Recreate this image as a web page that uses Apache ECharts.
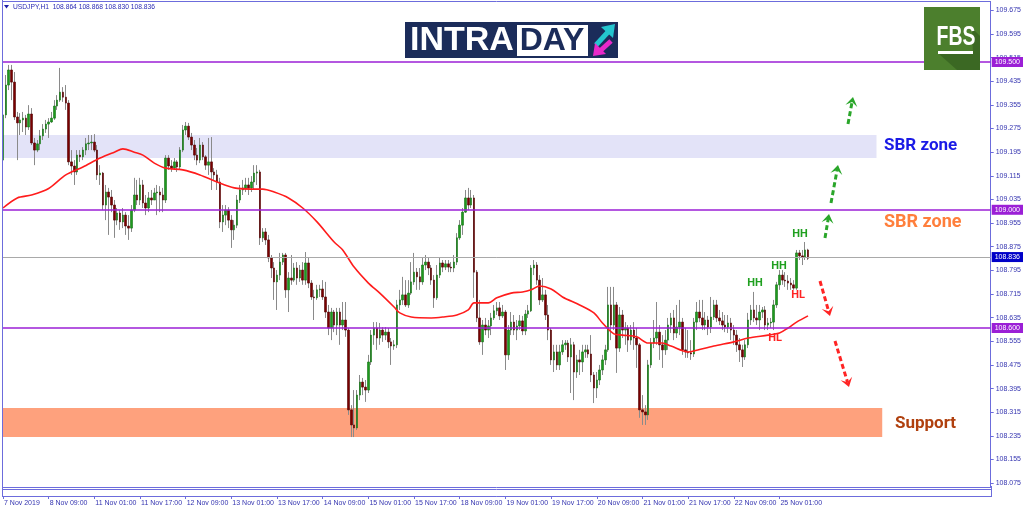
<!DOCTYPE html>
<html><head><meta charset="utf-8">
<script src="https://cdn.jsdelivr.net/npm/echarts@6/dist/echarts.min.js"></script>
<style>html,body{margin:0;padding:0;background:#fff}#c{width:1024px;height:511px}</style>
</head><body><div id="c"></div>
<script>
// ---------- DATA (USDJPY H1) ----------
const xTickLabels = ['7 Nov 2019','8 Nov 09:00','11 Nov 01:00','11 Nov 17:00','12 Nov 09:00','13 Nov 01:00','13 Nov 17:00','14 Nov 09:00','15 Nov 01:00','15 Nov 17:00','18 Nov 09:00','19 Nov 01:00','19 Nov 17:00','20 Nov 09:00','21 Nov 01:00','21 Nov 17:00','22 Nov 09:00','25 Nov 01:00'];
const yTickValues = [108.075,108.155,108.235,108.315,108.395,108.475,108.555,108.635,108.715,108.795,108.875,108.955,109.035,109.115,109.195,109.275,109.355,109.435,109.515,109.595,109.675];

const closes = [
109.321,109.422,109.473,109.432,109.314,109.294,109.304,109.310,109.280,109.324,
109.226,109.202,109.223,109.250,109.273,109.290,109.297,109.310,109.351,109.371,
109.398,109.381,109.361,109.162,109.148,109.128,109.185,109.179,109.202,109.223,
109.226,109.229,109.202,109.118,109.124,109.016,109.060,109.043,109.016,108.965,
108.989,108.959,108.982,108.945,108.938,108.999,109.050,109.033,109.084,109.023,
109.006,109.040,109.033,109.057,109.060,109.050,109.033,109.175,109.148,109.141,
109.162,109.145,109.202,109.270,109.283,109.246,109.219,109.185,109.168,109.219,
109.179,109.151,109.162,109.128,109.118,109.094,108.959,108.982,108.999,108.965,
108.932,108.948,109.033,109.067,109.074,109.084,109.074,109.094,109.124,109.128,
108.905,108.925,108.898,108.837,108.803,108.756,108.779,108.823,108.847,108.729,
108.769,108.762,108.803,108.769,108.796,108.762,108.820,108.752,108.705,108.702,
108.729,108.732,108.705,108.654,108.600,108.654,108.610,108.654,108.610,108.627,
108.593,108.323,108.272,108.262,108.373,108.417,108.400,108.390,108.485,108.576,
108.600,108.566,108.593,108.576,108.586,108.553,108.539,108.543,108.678,108.695,
108.712,108.678,108.718,108.756,108.789,108.773,108.756,108.813,108.823,108.803,
108.762,108.702,108.779,108.820,108.806,108.817,108.806,108.803,108.823,108.905,
108.948,108.992,109.040,109.016,109.040,108.789,108.634,108.553,108.610,108.593,
108.607,108.634,108.658,108.668,108.641,108.654,108.509,108.593,108.620,108.593,
108.607,108.624,108.590,108.647,108.658,108.803,108.813,108.762,108.695,108.712,
108.644,108.593,108.492,108.519,108.475,108.519,108.543,108.549,108.502,108.543,
108.451,108.492,108.485,108.519,108.526,108.512,108.441,108.397,108.424,108.458,
108.492,108.526,108.678,108.610,108.678,108.532,108.644,108.593,108.600,108.559,
108.593,108.566,108.543,108.323,108.316,108.306,108.475,108.549,108.566,108.586,
108.543,108.526,108.559,108.610,108.634,108.583,108.603,108.620,108.526,108.519,
108.516,108.512,108.620,108.654,108.634,108.610,108.627,108.603,108.637,108.678,
108.634,108.624,108.610,108.603,108.617,108.593,108.576,108.543,108.526,108.502,
108.543,108.627,108.661,108.634,108.627,108.654,108.661,108.610,108.617,108.620,
108.678,108.746,108.779,108.762,108.759,108.752,108.746,108.735,108.854,108.844,
108.840,108.864,108.836];

const opens = [
109.168,109.321,109.422,109.473,109.432,109.314,109.294,109.304,109.310,109.280,
109.324,109.226,109.202,109.223,109.250,109.273,109.290,109.297,109.310,109.351,
109.371,109.398,109.381,109.361,109.162,109.148,109.128,109.185,109.179,109.202,
109.223,109.226,109.229,109.202,109.118,109.124,109.016,109.060,109.043,109.016,
108.965,108.989,108.959,108.982,108.945,108.938,108.999,109.050,109.033,109.084,
109.023,109.006,109.040,109.033,109.057,109.060,109.050,109.033,109.175,109.148,
109.141,109.162,109.145,109.202,109.270,109.283,109.246,109.219,109.185,109.168,
109.219,109.179,109.151,109.162,109.128,109.118,109.094,108.959,108.982,108.999,
108.965,108.932,108.948,109.033,109.067,109.074,109.084,109.074,109.094,109.124,
109.128,108.905,108.925,108.898,108.837,108.803,108.756,108.779,108.823,108.847,
108.729,108.769,108.762,108.803,108.769,108.796,108.762,108.820,108.752,108.705,
108.702,108.729,108.732,108.705,108.654,108.600,108.654,108.610,108.654,108.610,
108.627,108.593,108.323,108.272,108.262,108.373,108.417,108.400,108.390,108.485,
108.576,108.600,108.566,108.593,108.576,108.586,108.553,108.539,108.543,108.678,
108.695,108.712,108.678,108.718,108.756,108.789,108.773,108.756,108.813,108.823,
108.803,108.762,108.702,108.779,108.820,108.806,108.817,108.806,108.803,108.823,
108.905,108.948,108.992,109.040,109.016,109.040,108.789,108.634,108.553,108.610,
108.593,108.607,108.634,108.658,108.668,108.641,108.654,108.509,108.593,108.620,
108.593,108.607,108.624,108.590,108.647,108.658,108.803,108.813,108.762,108.695,
108.712,108.644,108.593,108.492,108.519,108.475,108.519,108.543,108.549,108.502,
108.543,108.451,108.492,108.485,108.519,108.526,108.512,108.441,108.397,108.424,
108.458,108.492,108.526,108.678,108.610,108.678,108.532,108.644,108.593,108.600,
108.559,108.593,108.566,108.543,108.323,108.316,108.306,108.475,108.549,108.566,
108.586,108.543,108.526,108.559,108.610,108.634,108.583,108.603,108.620,108.526,
108.519,108.516,108.512,108.620,108.654,108.634,108.610,108.627,108.603,108.637,
108.678,108.634,108.624,108.610,108.603,108.617,108.593,108.576,108.543,108.526,
108.502,108.543,108.627,108.661,108.634,108.627,108.654,108.661,108.610,108.617,
108.620,108.678,108.746,108.779,108.762,108.759,108.752,108.746,108.735,108.854,
108.844,108.840,108.864];

const highs = [
109.395,109.456,109.490,109.490,109.466,109.331,109.327,109.331,109.321,109.354,
109.344,109.243,109.236,109.270,109.290,109.304,109.310,109.331,109.371,109.388,
109.480,109.415,109.422,109.371,109.202,109.168,109.202,109.202,109.212,109.243,
109.253,109.253,109.256,109.219,109.151,109.128,109.084,109.074,109.067,109.033,
109.006,108.999,109.006,108.992,108.982,109.016,109.108,109.101,109.108,109.101,
109.050,109.060,109.067,109.074,109.084,109.080,109.074,109.185,109.185,109.168,
109.175,109.168,109.212,109.287,109.297,109.294,109.260,109.236,109.209,109.243,
109.229,109.185,109.243,109.246,109.141,109.135,109.108,109.016,109.016,109.009,
108.982,108.965,109.050,109.084,109.101,109.108,109.108,109.114,109.151,109.151,
109.135,108.938,108.938,108.915,108.847,108.823,108.796,108.854,108.854,108.854,
108.789,108.847,108.820,108.823,108.813,108.823,108.857,108.837,108.762,108.729,
108.746,108.746,108.762,108.756,108.678,108.668,108.661,108.668,108.668,108.688,
108.688,108.600,108.339,108.390,108.390,108.441,108.431,108.424,108.509,108.593,
108.620,108.620,108.617,108.603,108.603,108.600,108.566,108.559,108.695,108.729,
108.773,108.762,108.762,108.823,108.854,108.803,108.803,108.837,108.847,108.837,
108.813,108.779,108.813,108.837,108.830,108.830,108.830,108.823,108.847,108.921,
108.965,109.006,109.067,109.074,109.067,109.050,108.796,108.695,108.627,108.634,
108.627,108.651,108.678,108.688,108.688,108.678,108.661,108.610,108.654,108.644,
108.627,108.644,108.641,108.661,108.678,108.813,108.830,108.823,108.779,108.769,
108.729,108.678,108.600,108.543,108.543,108.543,108.559,108.559,108.559,108.566,
108.553,108.509,108.526,108.543,108.543,108.543,108.576,108.451,108.451,108.475,
108.509,108.543,108.739,108.739,108.739,108.688,108.671,108.661,108.620,108.610,
108.610,108.620,108.600,108.549,108.373,108.339,108.492,108.566,108.627,108.688,
108.610,108.576,108.593,108.634,108.651,108.661,108.678,108.695,108.634,108.600,
108.593,108.559,108.634,108.688,108.695,108.695,108.654,108.641,108.705,108.695,
108.695,108.661,108.654,108.644,108.644,108.634,108.610,108.593,108.566,108.543,
108.559,108.651,108.678,108.722,108.678,108.678,108.671,108.674,108.634,108.634,
108.695,108.756,108.796,108.796,108.789,108.779,108.769,108.762,108.864,108.864,
108.864,108.891,108.868];

const lows = [
109.135,109.310,109.405,109.371,109.304,109.168,109.253,109.263,109.253,109.270,
109.219,109.151,109.195,109.202,109.236,109.260,109.243,109.294,109.304,109.338,
109.365,109.365,109.338,109.151,109.118,109.084,109.118,109.162,109.168,109.185,
109.202,109.202,109.195,109.101,109.084,108.999,108.965,108.915,108.992,108.905,
108.948,108.932,108.938,108.915,108.898,108.925,108.992,109.016,109.016,109.006,
108.982,108.992,109.016,109.033,108.982,108.992,108.992,109.023,109.135,109.128,
109.135,109.128,109.135,109.195,109.253,109.236,109.202,109.168,109.151,109.158,
109.168,109.135,109.118,109.067,109.101,109.067,108.938,108.925,108.948,108.938,
108.871,108.898,108.938,109.023,109.050,109.060,109.050,109.060,109.067,109.084,
108.881,108.891,108.881,108.823,108.769,108.695,108.661,108.762,108.813,108.702,
108.654,108.746,108.756,108.746,108.756,108.746,108.746,108.735,108.695,108.627,
108.695,108.705,108.695,108.634,108.576,108.559,108.586,108.576,108.543,108.593,
108.570,108.306,108.231,108.231,108.255,108.356,108.373,108.350,108.380,108.475,
108.543,108.526,108.543,108.553,108.559,108.532,108.475,108.526,108.532,108.661,
108.678,108.671,108.668,108.712,108.746,108.729,108.729,108.746,108.796,108.779,
108.746,108.668,108.695,108.769,108.789,108.796,108.789,108.789,108.789,108.813,
108.898,108.915,108.989,108.999,109.006,108.702,108.620,108.543,108.509,108.576,
108.566,108.576,108.627,108.644,108.627,108.634,108.458,108.492,108.576,108.576,
108.559,108.593,108.576,108.576,108.634,108.654,108.779,108.746,108.678,108.688,
108.627,108.559,108.475,108.451,108.458,108.458,108.509,108.526,108.485,108.380,
108.356,108.431,108.441,108.451,108.499,108.499,108.417,108.346,108.363,108.407,
108.441,108.475,108.519,108.559,108.593,108.448,108.519,108.566,108.543,108.519,
108.543,108.526,108.465,108.296,108.272,108.272,108.289,108.465,108.532,108.543,
108.492,108.465,108.509,108.526,108.583,108.559,108.566,108.576,108.509,108.499,
108.499,108.492,108.502,108.593,108.620,108.593,108.593,108.576,108.583,108.627,
108.620,108.610,108.593,108.586,108.583,108.559,108.543,108.519,108.485,108.468,
108.492,108.532,108.610,108.620,108.610,108.593,108.634,108.593,108.593,108.600,
108.593,108.668,108.729,108.746,108.739,108.729,108.729,108.729,108.729,108.830,
108.813,108.830,108.830];

// moving average, read at sampled bars
const maBars = [0,5,10,16,22,28,34,39,42,46,49,53,57,63,69,75,81,87,91,95,100,105,110,116,119,123,128,132,137,139,143,150,154,159,163,165,170,173,178,182,185,188,192,196,202,207,210,214,217,222,226,231,234,240,242,249,256,261,268,272,275,278,282];
const maValues = [109.006,109.040,109.050,109.072,109.118,109.145,109.175,109.195,109.206,109.195,109.185,109.158,109.141,109.135,109.118,109.094,109.074,109.070,109.070,109.060,109.040,109.006,108.959,108.891,108.864,108.806,108.752,108.718,108.671,108.651,108.637,108.634,108.637,108.644,108.661,108.685,108.685,108.702,108.718,108.722,108.729,108.742,108.732,108.705,108.678,108.651,108.617,108.580,108.576,108.570,108.549,108.549,108.539,108.519,108.522,108.539,108.553,108.566,108.576,108.583,108.600,108.620,108.641];

const levelLines = [109.500, 109.000, 108.600];
const lastPrice = 108.836;
const sbrZone = [109.175, 109.253];
const supportZone = [108.231, 108.329];

// ---------- CHART ----------
const slotCount = 347;
const categories = Array.from({length: slotCount}, (_, i) => String(i));
const tickFn = (i) => i % 16 === 0 && (i / 16) < xTickLabels.length;
const axisBlue = '#6c6cdc', txtBlue = '#3434b0';

const chart = echarts.init(document.getElementById('c'), null, {renderer: 'canvas'});

function arrow(x1, y1, x2, y2, color) {
  const dx = x2 - x1, dy = y2 - y1, L = Math.hypot(dx, dy), ux = dx / L, uy = dy / L, px = -uy, py = ux;
  return [
    {type: 'line', z: 100, shape: {x1: x1, y1: y1, x2: x2 - ux * 5, y2: y2 - uy * 5},
      style: {stroke: color, lineWidth: 3, lineDash: [5, 3]}},
    {type: 'polygon', z: 100, shape: {points: [[x2, y2], [x2 - ux * 9 + px * 6, y2 - uy * 9 + py * 6], [x2 - ux * 5, y2 - uy * 5], [x2 - ux * 9 - px * 6, y2 - uy * 9 - py * 6]]},
      style: {fill: color}}
  ];
}
function label(text, x, y, color, size) {
  return {type: 'text', z: 100, x: x, y: y, style: {text: text, fill: color, font: 'bold ' + size + 'px Roboto', textAlign: 'center', textVerticalAlign: 'middle'}};
}

const graphics = [
  // frame
  {type: 'line', z: 90, shape: {x1: 2.5, y1: 0, x2: 2.5, y2: 497}, style: {stroke: axisBlue, lineWidth: 1}},
  {type: 'line', z: 90, shape: {x1: 2, y1: 1.5, x2: 991, y2: 1.5}, style: {stroke: axisBlue, lineWidth: 1}},
  {type: 'line', z: 90, shape: {x1: 2, y1: 487.5, x2: 991, y2: 487.5}, style: {stroke: axisBlue, lineWidth: 1}},
  {type: 'line', z: 90, shape: {x1: 2, y1: 489.5, x2: 991, y2: 489.5}, style: {stroke: axisBlue, lineWidth: 1}},
  {type: 'line', z: 90, shape: {x1: 991.5, y1: 486, x2: 991.5, y2: 497}, style: {stroke: axisBlue, lineWidth: 1}},
  // header
  {type: 'polygon', z: 100, shape: {points: [[4, 5], [9, 5], [6.5, 8.5]]}, style: {fill: '#1f1fa8'}},
  {type: 'text', z: 100, x: 13, y: 7, style: {text: 'USDJPY,H1  108.864 108.868 108.830 108.836', fill: '#2a2ab4', font: '6.7px "Liberation Sans"', textVerticalAlign: 'middle'}},
  // INTRADAY logo
  {type: 'rect', z: 100, shape: {x: 405, y: 22, width: 213, height: 36}, style: {fill: '#1b2c5a'}},
  {type: 'text', z: 101, x: 410, y: 41, style: {text: 'INTRA', fill: '#ffffff', font: 'bold 34px "Liberation Sans"', textVerticalAlign: 'middle'}},
  {type: 'rect', z: 101, shape: {x: 517, y: 25, width: 71, height: 31}, style: {fill: '#ffffff'}},
  {type: 'text', z: 102, x: 552, y: 41, style: {text: 'DAY', fill: '#1b2c5a', font: 'bold 32px "Liberation Sans"', textAlign: 'center', textVerticalAlign: 'middle'}},
  {type: 'line', z: 102, shape: {x1: 596, y1: 45, x2: 608, y2: 32}, style: {stroke: '#24c6cf', lineWidth: 5}},
  {type: 'polygon', z: 102, shape: {points: [[615, 24], [613, 38], [601, 27]]}, style: {fill: '#24c6cf'}},
  {type: 'line', z: 102, shape: {x1: 611, y1: 41, x2: 600, y2: 51}, style: {stroke: '#e829c9', lineWidth: 5}},
  {type: 'polygon', z: 102, shape: {points: [[593, 56], [595, 43], [606, 54]]}, style: {fill: '#e829c9'}},
  // FBS logo
  {type: 'rect', z: 100, shape: {x: 924, y: 7, width: 56, height: 63}, style: {fill: '#4c7f2d'}},
  {type: 'polygon', z: 101, shape: {points: [[972, 28], [980, 36], [980, 70], [957, 70], [939, 54], [973, 54]]}, style: {fill: '#3b6823'}},
  {type: 'text', z: 102, x: 956, y: 38, scaleX: 0.72, scaleY: 1, style: {text: 'FBS', fill: '#ffffff', font: 'bold 27px "Liberation Sans"', textAlign: 'center', textVerticalAlign: 'middle'}},
  {type: 'rect', z: 102, shape: {x: 938, y: 51, width: 35, height: 3}, style: {fill: '#ffffff'}},
  // zone texts
  {type: 'text', z: 100, x: 884, y: 146, style: {text: 'SBR zone', fill: '#1a1ae6', font: 'bold 17px Roboto', textVerticalAlign: 'middle'}},
  {type: 'text', z: 100, x: 884, y: 222, style: {text: 'SBR zone', fill: '#ff7f3c', font: 'bold 18px Roboto', textVerticalAlign: 'middle'}},
  {type: 'text', z: 100, x: 895, y: 424, style: {text: 'Support', fill: '#b0400e', font: 'bold 17px Roboto', textVerticalAlign: 'middle'}},
  // HH / HL
  label('HH', 755, 283, '#1fa01f', 11),
  label('HH', 779, 266, '#1fa01f', 11),
  label('HH', 800, 234, '#1fa01f', 11),
  label('HL', 798, 295, '#ff2323', 11),
  label('HL', 775, 338, '#ff2323', 11)
].concat(
  arrow(848, 124, 853, 97, '#2aa62a'),
  arrow(831, 203, 838, 165, '#2aa62a'),
  arrow(825, 238, 829, 214, '#2aa62a'),
  arrow(820, 281, 830, 316, '#ff2424'),
  arrow(835, 341, 849, 387, '#ff2424')
);

function levelItem(v, lineColor, tagColor, width) {
  return {
    yAxis: v,
    lineStyle: {color: lineColor, width: width, type: 'solid'},
    label: {show: true, position: 'end', distance: 1, formatter: () => v.toFixed(3),
      backgroundColor: tagColor, color: '#ffffff', fontSize: 7, fontFamily: 'Liberation Sans', padding: [2, 3, 1, 3]}
  };
}

const option = {
  animation: false,
  backgroundColor: '#ffffff',
  grid: {left: 3, top: 2, width: 988, height: 485},
  xAxis: {
    type: 'category', data: categories, boundaryGap: false, offset: 9,
    axisLine: {show: true, lineStyle: {color: axisBlue, width: 1}},
    axisTick: {show: true, interval: tickFn, length: 3, lineStyle: {color: axisBlue}},
    axisLabel: {show: true, interval: tickFn, formatter: (v, i) => xTickLabels[i / 16] || '',
      fontSize: 7, fontFamily: 'Liberation Sans', color: txtBlue, align: 'left', margin: 4, padding: [0, 0, 0, 1]},
    splitLine: {show: false}
  },
  yAxis: {
    type: 'value', position: 'right', min: 108.062, max: 109.703, scale: true,
    axisLine: {show: true, lineStyle: {color: axisBlue}},
    axisTick: {show: true, customValues: yTickValues, length: 3, lineStyle: {color: axisBlue}},
    axisLabel: {show: true, customValues: yTickValues, formatter: v => Number(v).toFixed(3),
      fontSize: 7, fontFamily: 'Liberation Sans', color: txtBlue, margin: 5},
    splitLine: {show: false}
  },
  series: [
    {
      type: 'line', data: [], z: 1, silent: true,
      markArea: {silent: true, data: [
        [{xAxis: 0, yAxis: sbrZone[1], itemStyle: {color: '#e3e3f8'}}, {xAxis: 306, yAxis: sbrZone[0]}],
        [{xAxis: 0, yAxis: supportZone[1], itemStyle: {color: '#fea17d'}}, {xAxis: 308, yAxis: supportZone[0]}]
      ]}
    },
    {
      type: 'candlestick', z: 2, silent: true, barWidth: 1,
      data: opens.map((o, i) => [o, closes[i], lows[i], highs[i]]),
      itemStyle: {color: '#8a8a8a', color0: '#8a8a8a', borderColor: '#8a8a8a', borderColor0: '#8a8a8a', borderWidth: 1}
    },
    {
      type: 'candlestick', z: 3, silent: true, barWidth: 2,
      data: opens.map((o, i) => [o, closes[i], Math.min(o, closes[i]), Math.max(o, closes[i])]),
      itemStyle: {color: '#1e9a1e', color0: '#7a0000', borderColor: '#137013', borderColor0: '#500000', borderWidth: 0.6}
    },
    {
      type: 'line', z: 4, silent: true, symbol: 'none', smooth: 0.3,
      data: maBars.map((b, i) => [b, maValues[i]]),
      lineStyle: {color: '#ff1c1c', width: 1.6}
    },
    {
      type: 'line', data: [], z: 5, silent: true,
      markLine: {silent: true, symbol: ['none', 'none'], data: [
        levelItem(lastPrice, '#a9a9a9', '#0000c8', 1),
        levelItem(levelLines[0], '#9b1fd6', '#9b1fd6', 1.6),
        levelItem(levelLines[1], '#9b1fd6', '#9b1fd6', 1.6),
        levelItem(levelLines[2], '#9b1fd6', '#9b1fd6', 1.6)
      ]}
    }
  ],
  graphic: graphics
};
chart.setOption(option);
</script></body></html>
